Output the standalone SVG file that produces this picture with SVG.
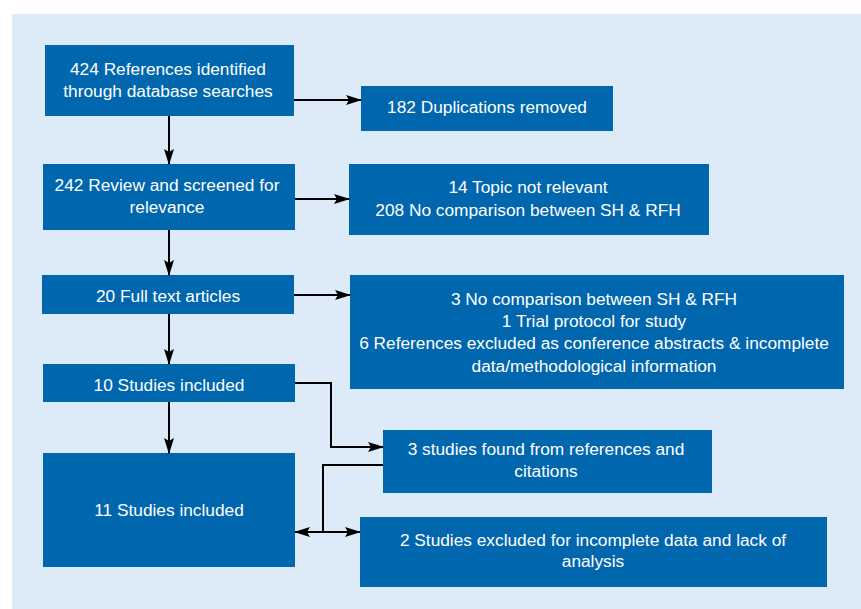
<svg xmlns="http://www.w3.org/2000/svg" width="861" height="609" viewBox="0 0 861 609">
<style>
.bg{fill:#ddeaf7}
.box{fill:#0066ae}
.t{font-family:"Liberation Sans",Arial,sans-serif;font-size:17.3px;fill:#ffffff;text-anchor:middle}
.c{stroke:#000;stroke-width:2;fill:none}
</style>
<defs>
<marker id="ah" markerWidth="16" markerHeight="12" refX="15" refY="6" orient="auto" markerUnits="userSpaceOnUse">
<path d="M0,1 L16,6 L0,11 L3,6 Z" fill="#000"/>
</marker>
</defs>
<rect class="bg" x="12" y="14" width="849" height="595"/>
<g id="n1"><rect class="box" x="45" y="45" width="249" height="71"/><text class="t" x="168" y="75">424 References identified</text><text class="t" x="168" y="97">through database searches</text></g>
<g id="n2"><rect class="box" x="361" y="86" width="252" height="45"/><text class="t" x="487" y="113">182 Duplications removed</text></g>
<g id="n3"><rect class="box" x="43" y="164" width="252" height="66"/><text class="t" x="167" y="191">242 Review and screened for</text><text class="t" x="167" y="213">relevance</text></g>
<g id="n4"><rect class="box" x="349" y="164" width="360" height="71"/><text class="t" x="528" y="193">14 Topic not relevant</text><text class="t" x="528" y="216">208 No comparison between SH &amp; RFH</text></g>
<g id="n5"><rect class="box" x="42" y="275" width="252" height="39"/><text class="t" x="168" y="302">20 Full text articles</text></g>
<g id="n6"><rect class="box" x="350" y="275" width="494" height="114"/><text class="t" x="594" y="305">3 No comparison between SH &amp; RFH</text><text class="t" x="594" y="327">1 Trial protocol for study</text><text class="t" x="594" y="349">6 References excluded as conference abstracts &amp; incomplete</text><text class="t" x="594" y="372">data/methodological information</text></g>
<g id="n7"><rect class="box" x="43" y="364" width="252" height="38"/><text class="t" x="169" y="391">10 Studies included</text></g>
<g id="n8"><rect class="box" x="383" y="430" width="329" height="63"/><text class="t" x="546" y="455">3 studies found from references and</text><text class="t" x="546" y="477">citations</text></g>
<g id="n9"><rect class="box" x="43" y="453" width="252" height="114"/><text class="t" x="169" y="516">11 Studies included</text></g>
<g id="n10"><rect class="box" x="360" y="517" width="467" height="70"/><text class="t" x="593" y="546">2 Studies excluded for incomplete data and lack of</text><text class="t" x="593" y="567">analysis</text></g>
<g id="connectors">
<path class="c" d="M169,116 V164" marker-end="url(#ah)"/>
<path class="c" d="M169,230 V275" marker-end="url(#ah)"/>
<path class="c" d="M169,314 V364" marker-end="url(#ah)"/>
<path class="c" d="M169,402 V453" marker-end="url(#ah)"/>
<path class="c" d="M294,100 H361" marker-end="url(#ah)"/>
<path class="c" d="M295,199 H349" marker-end="url(#ah)"/>
<path class="c" d="M294,295 H350" marker-end="url(#ah)"/>
<path class="c" d="M295,383 H331 V447 H383" marker-end="url(#ah)"/>
<path class="c" d="M383,465 H323 V532"/>
<path class="c" d="M323,532 H295" marker-end="url(#ah)"/>
<path class="c" d="M323,532 H360" marker-end="url(#ah)"/>
</g>
</svg>
